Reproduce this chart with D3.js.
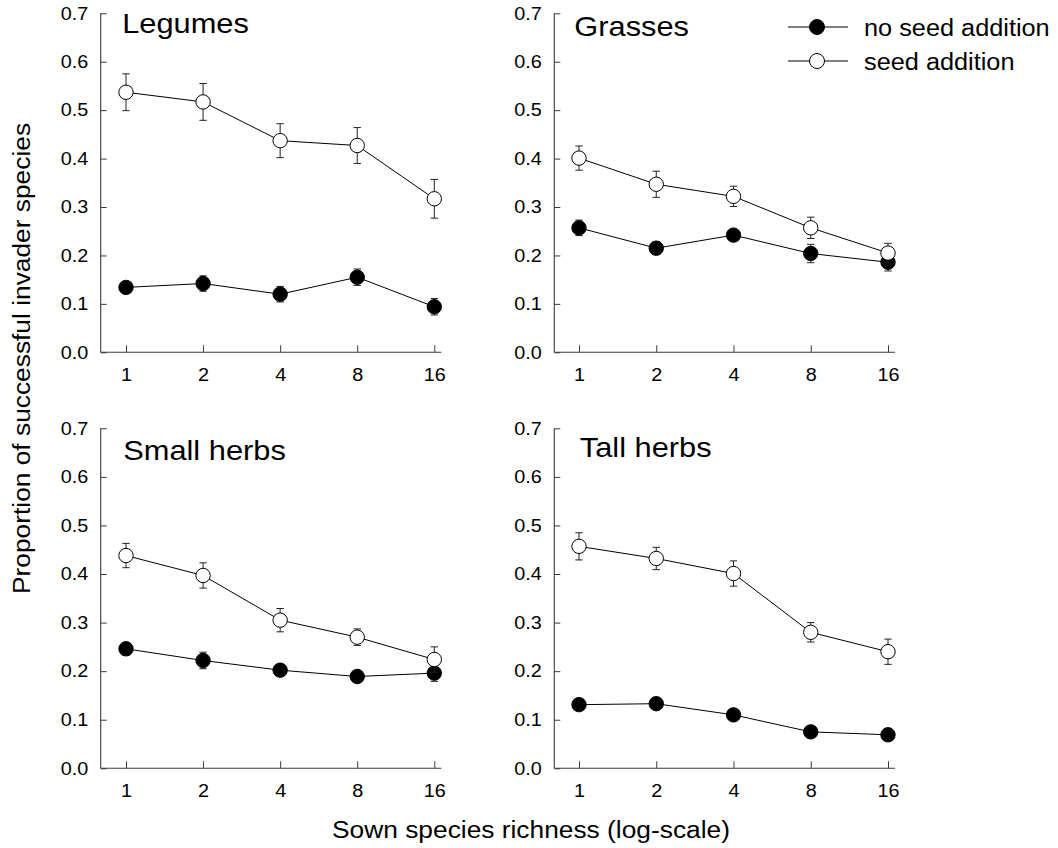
<!DOCTYPE html>
<html>
<head>
<meta charset="utf-8">
<script src="https://cdn.jsdelivr.net/npm/d3@7"></script>
<style>
  html, body { margin: 0; padding: 0; background: #fff; }
  svg { display: block; }
  text { font-family: "Liberation Sans", Arial, sans-serif; fill: #000; }
</style>
</head>
<body>
<svg id="chart" width="1058" height="848"></svg>
<script>
// ---------------- data ----------------
const richness = [1, 2, 4, 8, 16];
const tickLabels = ["1", "2", "4", "8", "16"];
const yTicks = [0.0, 0.1, 0.2, 0.3, 0.4, 0.5, 0.6, 0.7];
const panelNames = ["Legumes", "Grasses", "Small herbs", "Tall herbs"];
const seriesNames = ["no seed addition", "seed addition"];

// no seed addition (filled circles): means and standard errors
const legumesNoSeed      = [0.134, 0.142, 0.120, 0.155, 0.094];
const legumesNoSeedSE    = [0.012, 0.016, 0.016, 0.017, 0.017];
const grassesNoSeed      = [0.257, 0.215, 0.242, 0.204, 0.186];
const grassesNoSeedSE    = [0.016, 0.013, 0.010, 0.019, 0.018];
const smallHerbsNoSeed   = [0.246, 0.222, 0.202, 0.189, 0.196];
const smallHerbsNoSeedSE = [0.013, 0.017, 0.010, 0.008, 0.017];
const tallHerbsNoSeed    = [0.131, 0.133, 0.110, 0.075, 0.069];
const tallHerbsNoSeedSE  = [0.008, 0.008, 0.008, 0.006, 0.006];

// seed addition (open circles): means and standard errors
const legumesSeed        = [0.537, 0.517, 0.437, 0.427, 0.317];
const legumesSeedSE      = [0.038, 0.038, 0.035, 0.037, 0.040];
const grassesSeed        = [0.401, 0.347, 0.322, 0.257, 0.205];
const grassesSeedSE      = [0.025, 0.027, 0.021, 0.022, 0.020];
const smallHerbsSeed     = [0.438, 0.397, 0.305, 0.270, 0.224];
const smallHerbsSeedSE   = [0.025, 0.026, 0.024, 0.017, 0.026];
const tallHerbsSeed      = [0.457, 0.432, 0.401, 0.280, 0.240];
const tallHerbsSeedSE    = [0.028, 0.023, 0.026, 0.020, 0.026];

const noSeedMeans = [legumesNoSeed, grassesNoSeed, smallHerbsNoSeed, tallHerbsNoSeed];
const noSeedSEs   = [legumesNoSeedSE, grassesNoSeedSE, smallHerbsNoSeedSE, tallHerbsNoSeedSE];
const seedMeans   = [legumesSeed, grassesSeed, smallHerbsSeed, tallHerbsSeed];
const seedSEs     = [legumesSeedSE, grassesSeedSE, smallHerbsSeedSE, tallHerbsSeedSE];

// ---------------- layout ----------------
const layout = [
  { yAxisX: 100.7, x0: 126, x1: 434.3, yTop: 13.3,  yBot: 352.3, titleDx: 21.5, titleDy: 20 },
  { yAxisX: 554.3, x0: 579, x1: 888,   yTop: 13.3,  yBot: 352.3, titleDx: 20,   titleDy: 23 },
  { yAxisX: 100.7, x0: 126, x1: 434.3, yTop: 428.3, yBot: 768.3, titleDx: 22.5, titleDy: 31.5 },
  { yAxisX: 554.3, x0: 579, x1: 888,   yTop: 428.3, yBot: 768.3, titleDx: 25.5, titleDy: 28.5 }
];
const STRETCH = 1.1;
const axisColor = "#3a3a3a";
const R = 7.2;

const svg = d3.select("#chart");

function widen(sel, k) {
  sel.each(function () {
    const w = this.getComputedTextLength();
    d3.select(this).attr("textLength", w * k).attr("lengthAdjust", "spacingAndGlyphs");
  });
}

panelNames.forEach((name, i) => {
  const L = layout[i];
  const x = d3.scaleLog().base(2).domain([1, 16]).range([L.x0, L.x1]);
  const y = d3.scaleLinear().domain([0, 0.7]).range([L.yBot, L.yTop]);
  const g = svg.append("g");

  // x axis
  const xAxis = d3.axisBottom(x)
    .tickValues(richness)
    .tickFormat((d, j) => tickLabels[j])
    .tickSizeInner(-7).tickSizeOuter(0).tickPadding(16);
  const gx = g.append("g").attr("transform", `translate(0,${L.yBot})`).call(xAxis);
  gx.select(".domain").remove();
  gx.selectAll(".tick line").attr("stroke", axisColor);
  gx.selectAll(".tick text").attr("font-size", 18).attr("font-family", null).attr("fill", "#000");
  widen(gx.selectAll(".tick text"), STRETCH);
  g.append("line")
    .attr("x1", L.yAxisX).attr("x2", x(16) + 7)
    .attr("y1", L.yBot).attr("y2", L.yBot)
    .attr("stroke", axisColor).attr("stroke-width", 1.1);

  // y axis
  const yAxis = d3.axisLeft(y)
    .tickValues(yTicks)
    .tickFormat(d3.format(".1f"))
    .tickSizeInner(-6).tickSizeOuter(0).tickPadding(12.5);
  const gy = g.append("g").attr("transform", `translate(${L.yAxisX},0)`).call(yAxis);
  gy.select(".domain").remove();
  gy.selectAll(".tick line").attr("stroke", axisColor);
  gy.selectAll(".tick text").attr("font-size", 18).attr("font-family", null).attr("fill", "#000");
  widen(gy.selectAll(".tick text"), STRETCH);
  g.append("line")
    .attr("x1", L.yAxisX).attr("x2", L.yAxisX)
    .attr("y1", y(0.7)).attr("y2", L.yBot)
    .attr("stroke", axisColor).attr("stroke-width", 1.1);

  // panel title
  const t = g.append("text")
    .attr("x", L.yAxisX + L.titleDx).attr("y", L.yTop + L.titleDy)
    .attr("font-size", 28).text(name);
  widen(t, STRETCH);

  const seriesList = [
    { means: noSeedMeans[i], ses: noSeedSEs[i], fill: "#000" },
    { means: seedMeans[i],   ses: seedSEs[i],   fill: "#fff" }
  ];

  seriesList.forEach(s => {
    const pts = richness.map((r, j) => ({ r, m: s.means[j], se: s.ses[j] }));
    const line = d3.line().x(d => x(d.r)).y(d => y(d.m));
    g.append("path").datum(pts).attr("d", line)
      .attr("fill", "none").attr("stroke", "#000").attr("stroke-width", 1);

    const eb = g.append("g").attr("stroke", "#222").attr("stroke-width", 1);
    eb.selectAll("line.v").data(pts).join("line").attr("class", "v")
      .attr("x1", d => x(d.r)).attr("x2", d => x(d.r))
      .attr("y1", d => y(d.m + d.se)).attr("y2", d => y(d.m - d.se));
    eb.selectAll("line.top").data(pts).join("line").attr("class", "top")
      .attr("x1", d => x(d.r) - 3.7).attr("x2", d => x(d.r) + 3.7)
      .attr("y1", d => y(d.m + d.se)).attr("y2", d => y(d.m + d.se));
    eb.selectAll("line.bot").data(pts).join("line").attr("class", "bot")
      .attr("x1", d => x(d.r) - 3.7).attr("x2", d => x(d.r) + 3.7)
      .attr("y1", d => y(d.m - d.se)).attr("y2", d => y(d.m - d.se));

    g.selectAll(null).data(pts).join("circle")
      .attr("cx", d => x(d.r)).attr("cy", d => y(d.m)).attr("r", R)
      .attr("fill", s.fill).attr("stroke", "#000").attr("stroke-width", 1);
  });
});

// legend
const legendRows = [
  { label: seriesNames[0], fill: "#000", y: 27 },
  { label: seriesNames[1], fill: "#fff", y: 61 }
];
const lg = svg.append("g");
legendRows.forEach(row => {
  lg.append("line").attr("x1", 788).attr("x2", 848).attr("y1", row.y).attr("y2", row.y)
    .attr("stroke", "#000").attr("stroke-width", 1);
  lg.append("circle").attr("cx", 817).attr("cy", row.y).attr("r", 7.5)
    .attr("fill", row.fill).attr("stroke", "#000").attr("stroke-width", 1);
  const tx = lg.append("text").attr("x", 864).attr("y", row.y + 9.3)
    .attr("font-size", 23).text(row.label);
  widen(tx, STRETCH);
});

// axis titles
const xt = svg.append("text")
  .attr("x", 531).attr("y", 838)
  .attr("text-anchor", "middle").attr("font-size", 23.5)
  .text("Sown species richness (log-scale)");
widen(xt, 1.12);

const yt = svg.append("text")
  .attr("transform", "translate(30,358.5) rotate(-90)")
  .attr("text-anchor", "middle").attr("font-size", 23.5)
  .text("Proportion of successful invader species");
widen(yt, 1.12);
</script>
</body>
</html>
